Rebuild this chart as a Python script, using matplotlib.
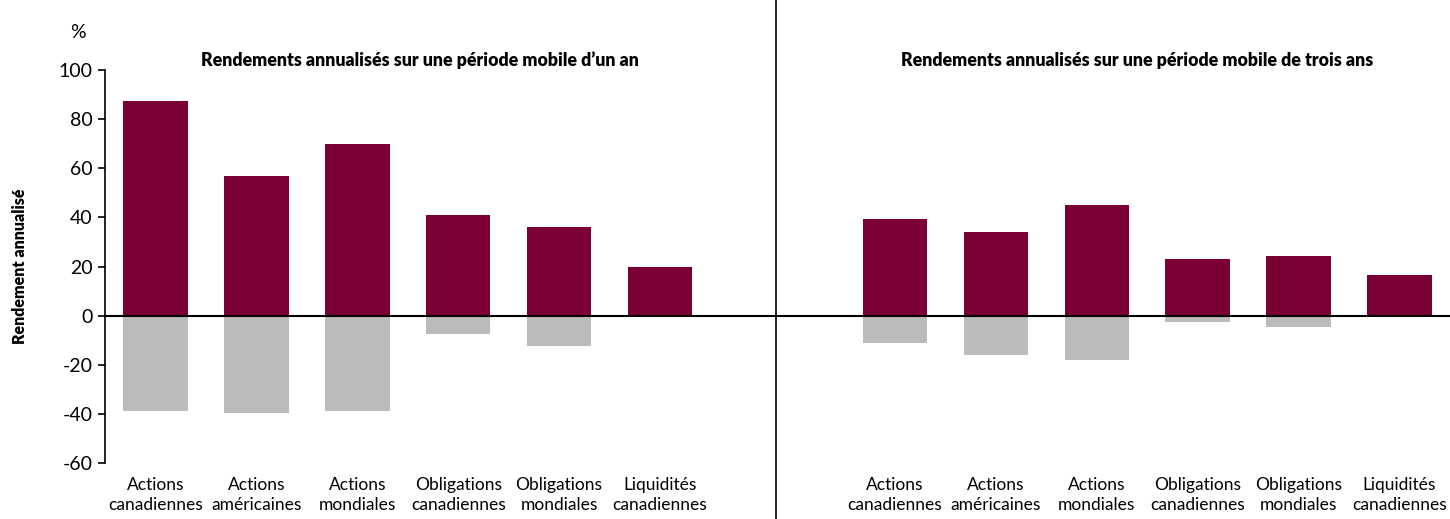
import matplotlib.pyplot as plt
from matplotlib.transforms import blended_transform_factory

# Data
categories = ["Actions\ncanadiennes", "Actions\naméricaines", "Actions\nmondiales",
              "Obligations\ncanadiennes", "Obligations\nmondiales", "Liquidités\ncanadiennes"]
one_year_max = [87.4, 57.0, 70.0, 41.0, 36.2, 19.9]
one_year_min = [-39.0, -39.8, -39.0, -7.3, -12.2, 0.0]
three_year_max = [39.2, 34.0, 45.2, 23.2, 24.3, 16.4]
three_year_min = [-11.3, -16.0, -18.1, -2.6, -4.8, -0.3]
titles = ["Rendements annualisés sur une période mobile d\u2019un an",
          "Rendements annualisés sur une période mobile de trois ans"]

maroon = "#7A0036"
grey = "#BABBBA"
font = ["Lato", "DejaVu Sans"]
narrow = ["Liberation Sans Narrow", "Lato", "DejaVu Sans"]

fig = plt.figure(figsize=(14.5, 5.19), dpi=100)
ax = fig.add_axes([0.0724, 0.1079, 0.9276, 0.7572])

# x positions: left group 0..5, right group shifted
offset = 7.33
x_left = [i for i in range(len(categories))]
x_right = [i + offset for i in range(len(categories))]
width = 0.64

ax.bar(x_left, one_year_max, width, color=maroon)
ax.bar(x_left, one_year_min, width, color=grey)
ax.bar(x_right, three_year_max, width, color=maroon)
ax.bar(x_right, three_year_min, width, color=grey)

ax.set_xlim(-0.5, offset + 5.5)
ax.set_ylim(-60, 100)
ax.axhline(0, color="black", lw=1.5, zorder=3)

# divider between panels
trans = blended_transform_factory(ax.transData, ax.transAxes)
ax.plot([6.15, 6.15], [-0.22, 1.18], transform=trans, color="black", lw=1.2, clip_on=False)

# spines / ticks
for s in ["top", "right", "bottom"]:
    ax.spines[s].set_visible(False)
ax.spines["left"].set_linewidth(1.2)
ax.set_yticks(range(-60, 101, 20))
ax.set_yticklabels([str(v) for v in range(-60, 101, 20)], fontsize=14, family=font)
ax.tick_params(axis="y", length=5, width=1.2, pad=4)
ax.set_xticks(x_left + x_right)
ax.set_xticklabels(categories * 2, fontsize=12.5, family=narrow, linespacing=1.3)
ax.tick_params(axis="x", length=0, pad=10)

ax.set_ylabel("Rendement annualisé", fontsize=11.5, fontweight="heavy", family=font, labelpad=22)

# panel titles
ttrans = blended_transform_factory(ax.transData, fig.transFigure)
ax.text(2.62, 0.884, titles[0], transform=ttrans, ha="center", va="center",
        fontsize=12.8, fontweight="heavy", family=font)
ax.text(9.73, 0.884, titles[1], transform=ttrans, ha="center", va="center",
        fontsize=12.8, fontweight="heavy", family=font)

fig.text(78 / 1450, 1 - 32 / 519, "%", ha="center", va="center", fontsize=14, family=font)

fig.savefig("out.png", dpi=100)
